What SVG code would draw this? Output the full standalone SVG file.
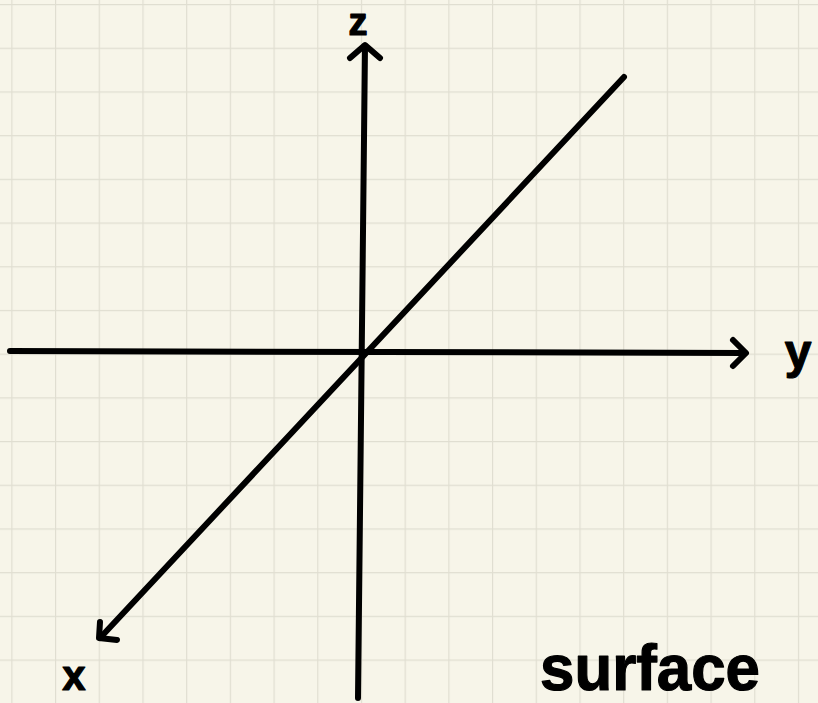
<svg xmlns="http://www.w3.org/2000/svg" width="818" height="703" viewBox="0 0 818 703">
<defs>
<pattern id="grid" x="11.3" y="4" width="43.7" height="43.7" patternUnits="userSpaceOnUse">
<path d="M0 0V43.7M0 0H43.7" fill="none" stroke="#e0ded1" stroke-width="2.4"/>
</pattern>
</defs>
<style>
.ax{fill:none;stroke:#000;stroke-width:6;stroke-linecap:round;stroke-linejoin:round}
.lbl{font-family:"Liberation Sans","DejaVu Sans",sans-serif;font-weight:bold;fill:#000;stroke:#000;stroke-width:1.2;stroke-linejoin:round}
</style>
<rect width="818" height="703" fill="#f7f5e9"/>
<rect width="818" height="703" fill="url(#grid)"/>
<g id="connectors">
<path class="ax" d="M10 351 L745 353"/>
<path class="ax" d="M733 340 L746 353 L733 366"/>
<path class="ax" d="M365 46 L358 698"/>
<path class="ax" d="M350 58 L365 45 L380 58"/>
<path class="ax" d="M624 77 L100 638"/>
<path class="ax" d="M100 622 L99 638 L117 640"/>
</g>
<g id="label-z"><text class="lbl" x="358" y="35" font-size="38" text-anchor="middle">z</text></g>
<g id="label-y"><text class="lbl" x="798" y="368" font-size="48" text-anchor="middle">y</text></g>
<g id="label-x"><text class="lbl" x="74" y="690" font-size="42" text-anchor="middle">x</text></g>
<g id="label-surface"><text class="lbl" x="540" y="690" font-size="64" textLength="220" lengthAdjust="spacingAndGlyphs">surface</text></g>
</svg>
